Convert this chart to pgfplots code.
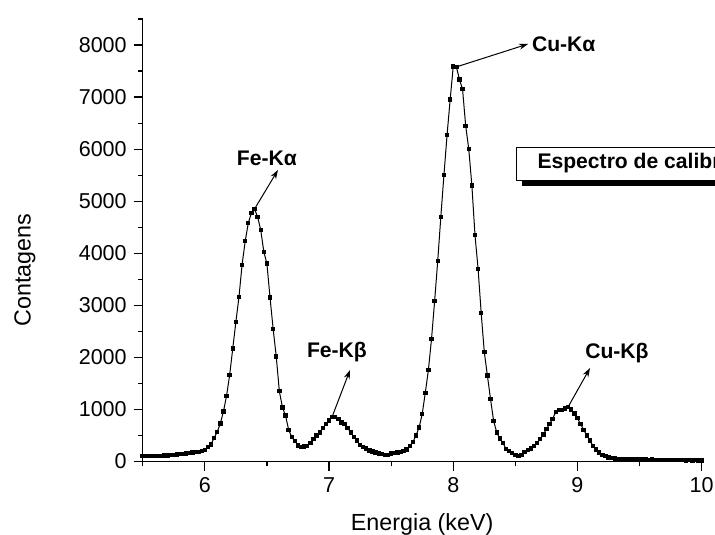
\documentclass[border=0pt]{standalone}
\usepackage{fontspec}
\setmainfont{Liberation Sans}
\usepackage{pgfplots}
\usepackage{pgfplotstable}
\pgfplotsset{compat=1.18}
\usetikzlibrary{arrows.meta}

% EDX calibration spectrum: energy (keV) vs counts
\pgfplotstableread{
x y
5.500 110
5.525 105
5.550 100
5.575 105
5.600 100
5.625 110
5.650 105
5.675 115
5.700 115
5.725 120
5.750 125
5.775 135
5.800 140
5.825 145
5.850 150
5.875 160
5.900 170
5.925 180
5.950 185
5.975 200
6.000 220
6.025 280
6.050 330
6.075 450
6.100 570
6.125 730
6.150 960
6.175 1260
6.200 1660
6.225 2170
6.250 2680
6.275 3160
6.300 3780
6.325 4230
6.350 4580
6.375 4770
6.400 4850
6.425 4700
6.450 4450
6.475 4030
6.500 3800
6.525 3150
6.550 2550
6.575 2020
6.600 1350
6.625 1040
6.650 880
6.675 610
6.700 470
6.725 390
6.750 310
6.775 280
6.800 285
6.825 300
6.850 360
6.875 430
6.900 500
6.925 560
6.950 640
6.975 720
7.000 790
7.025 860
7.050 850
7.075 820
7.100 750
7.125 720
7.150 640
7.175 560
7.200 470
7.225 400
7.250 320
7.275 275
7.300 250
7.325 215
7.350 190
7.375 170
7.400 150
7.425 140
7.450 125
7.475 130
7.500 155
7.525 165
7.550 175
7.575 185
7.600 205
7.625 230
7.650 295
7.675 375
7.700 500
7.725 652
7.750 910
7.775 1320
7.800 1760
7.825 2350
7.850 3080
7.875 3850
7.900 4700
7.925 5500
7.950 6270
7.975 6950
8.000 7590
8.025 7580
8.050 7340
8.075 7150
8.100 6450
8.125 6000
8.150 5300
8.175 4350
8.200 3700
8.225 2850
8.250 2100
8.275 1650
8.300 1200
8.325 780
8.350 560
8.375 440
8.400 360
8.425 240
8.450 200
8.475 160
8.500 130
8.525 110
8.550 120
8.575 180
8.600 220
8.625 250
8.650 300
8.675 360
8.700 430
8.725 520
8.750 620
8.775 720
8.800 820
8.825 950
8.850 990
8.875 995
8.900 1020
8.925 1050
8.950 1000
8.975 920
9.000 830
9.025 720
9.050 610
9.075 500
9.100 400
9.125 300
9.150 230
9.175 170
9.200 130
9.225 100
9.250 80
9.275 65
9.300 55
9.325 50
9.350 45
9.375 48
9.400 42
9.425 40
9.450 45
9.475 38
9.500 40
9.525 35
9.550 38
9.575 33
9.600 35
9.625 30
9.650 32
9.675 28
9.700 30
9.725 27
9.750 30
9.775 25
9.800 28
9.825 25
9.850 27
9.875 23
9.900 25
9.925 22
9.950 24
9.975 20
10.000 22
}\spectrum

\begin{document}
\begin{tikzpicture}
\begin{axis}[
  at={(0,0)}, anchor=south west,
  scale only axis, width=279.5bp, height=221.25bp,
  xmin=5.5, xmax=10, ymin=0, ymax=8500,
  axis x line*=bottom, axis y line*=left,
  axis line style={-, line width=0.6bp},
  xtick={6,7,8,9,10}, minor xtick={5.5,6.5,7.5,8.5,9.5},
  ytick={0,1000,...,8000}, minor ytick={500,1500,...,8500},
  tick align=outside, major tick length=4.5bp, minor tick length=2.4bp,
  every tick/.style={black, line width=0.6bp},
  tick label style={font=\fontsize{10.8}{12}\selectfont},
  /pgf/number format/assume math mode=true,
  /pgf/number format/1000 sep={},
  xlabel={Energia (keV)}, ylabel={Contagens},
  label style={font=\fontsize{11.7}{13}\selectfont},
  xlabel style={at={(axis description cs:0.5,-0.1412)}, anchor=center},
  ylabel style={at={(axis description cs:-0.2106,0.433)}, anchor=center, rotate=0},
  clip=false,
]
\addplot[black, line width=0.5bp, mark=square*, mark size=0.85bp,
         mark options={solid, fill=black}] table[x=x, y=y] {\spectrum};

% peak annotations
\begin{scope}[every node/.style={font=\bfseries\fontsize{10.6}{12}\selectfont},
              arr/.style={-{Stealth[length=4.5bp, width=3bp]}, line width=0.5bp}]
\draw[arr] (axis cs:6.40,4850) -- (axis cs:6.589,5600);
\node at (axis cs:6.50,5830) {Fe-Kα};
\draw[arr] (axis cs:8.025,7580) -- (axis cs:8.602,8020);
\node[anchor=west, inner sep=1bp] at (axis cs:8.615,8020) {Cu-Kα};
\draw[arr] (axis cs:7.025,860) -- (axis cs:7.169,1758);
\node at (axis cs:7.064,2103) {Fe-Kβ};
\draw[arr] (axis cs:8.925,1050) -- (axis cs:9.101,1796);
\node at (axis cs:9.318,2084) {Cu-Kβ};

% caption box with drop shadow, running past the right edge
\fill[black] (axis cs:8.554,5292) rectangle (axis cs:10.4,5407);
\draw[line width=0.5bp, fill=white] (axis cs:8.506,5407) rectangle (axis cs:10.4,6041);
\node[anchor=west, inner sep=0pt] at (axis cs:8.675,5724) {Espectro de calibração};
\end{scope}
\end{axis}
\pgfresetboundingbox
\path[use as bounding box] (-71.35bp,-36.75bp) rectangle (286.15bp,230.75bp);
\end{tikzpicture}
\end{document}
